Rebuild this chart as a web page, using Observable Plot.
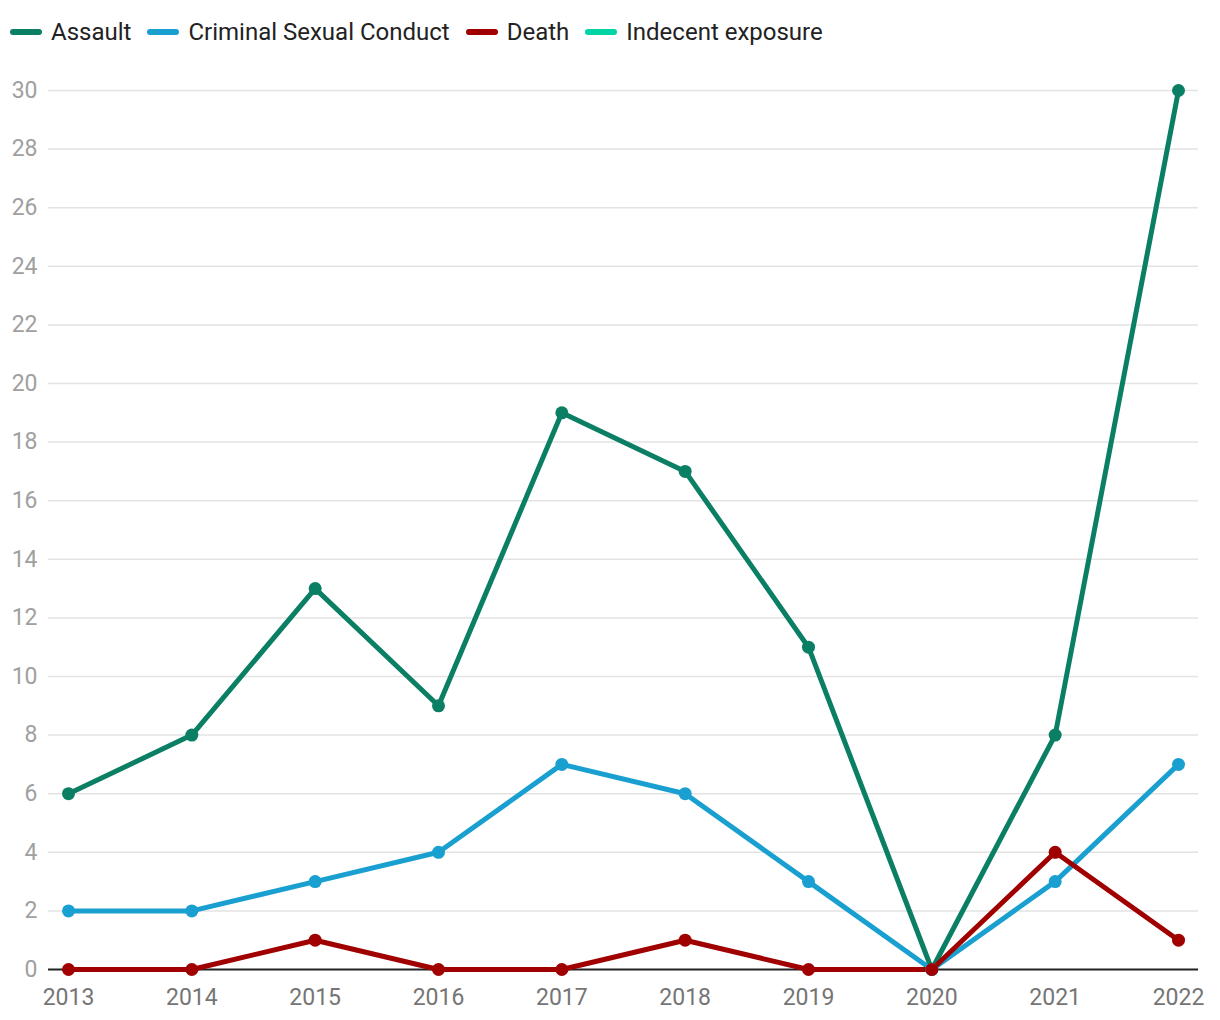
<!DOCTYPE html>
<html>
<head>
<meta charset="utf-8">
<script src="https://cdn.jsdelivr.net/npm/d3@7"></script>
<script src="https://cdn.jsdelivr.net/npm/@observablehq/plot@0.6"></script>
<style>
  html, body { margin: 0; padding: 0; background: #fff; }
  body { width: 1220px; height: 1020px; overflow: hidden; font-family: Roboto, "Noto Sans", sans-serif; }
  #legend { height: 60px; display: flex; align-items: center; padding-left: 10px; box-sizing: border-box; padding-top: 4px; }
  .item { display: flex; align-items: center; margin-right: 16px; font-size: 24px; color: #222; }
  .sw { width: 32px; height: 6px; border-radius: 3px; margin-right: 9px; }
</style>
</head>
<body>
<div id="legend"></div>
<div id="chart"></div>
<script>
const years = [2013, 2014, 2015, 2016, 2017, 2018, 2019, 2020, 2021, 2022];
const seriesNames = ["Assault", "Criminal Sexual Conduct", "Death", "Indecent exposure"];
const seriesColors = ["#0a7f64", "#1aa0d0", "#a00000", "#00d4a4"];
const assault = [6, 8, 13, 9, 19, 17, 11, 0, 8, 30];
const criminalSexualConduct = [2, 2, 3, 4, 7, 6, 3, 0, 3, 7];
const death = [0, 0, 1, 0, 0, 1, 0, 0, 4, 1];
const indecentExposure = [null, null, null, null, null, null, null, null, null, null];
const yTicks = [0, 2, 4, 6, 8, 10, 12, 14, 16, 18, 20, 22, 24, 26, 28, 30];

const seriesValues = [assault, criminalSexualConduct, death, indecentExposure];
const rows = [];
seriesNames.forEach((name, i) => {
  years.forEach((yr, j) => {
    const v = seriesValues[i][j];
    if (v != null) rows.push({series: name, year: yr, value: v});
  });
});

const legend = document.getElementById("legend");
seriesNames.forEach((name, i) => {
  const it = document.createElement("div");
  it.className = "item";
  it.innerHTML = `<span class="sw" style="background:${seriesColors[i]}"></span><span>${name}</span>`;
  legend.appendChild(it);
});

const chart = Plot.plot({
  width: 1220,
  height: 960,
  marginLeft: 48,
  marginRight: 22,
  marginTop: 30,
  marginBottom: 51,
  style: { fontFamily: "Roboto, 'Noto Sans', sans-serif", fontSize: "24px", background: "#fff" },
  x: { type: "linear", domain: [2013, 2022], insetLeft: 20, insetRight: 20, label: null },
  y: { domain: [0, 30], label: null },
  color: { domain: seriesNames, range: seriesColors },
  marks: [
    Plot.ruleY(yTicks.filter(d => d > 0), { stroke: "#e3e3e3", strokeWidth: 1.5 }),
    Plot.axisY(yTicks, { tickSize: 0, tickPadding: 11, fill: "#a0a0a0", fontSize: 23, label: null }),
    Plot.axisX(years, { tickSize: 0, tickPadding: 19, fill: "#757575", fontSize: 23, tickFormat: d => String(d), label: null }),
    Plot.ruleY([0], { stroke: "#222", strokeWidth: 2 }),
    Plot.line(rows, { x: "year", y: "value", z: "series", stroke: "series", strokeWidth: 5, strokeLinejoin: "round", strokeLinecap: "round" }),
    Plot.dot(rows, { x: "year", y: "value", fill: "series", r: 6.5, stroke: null })
  ]
});
document.getElementById("chart").appendChild(chart);
</script>
</body>
</html>
